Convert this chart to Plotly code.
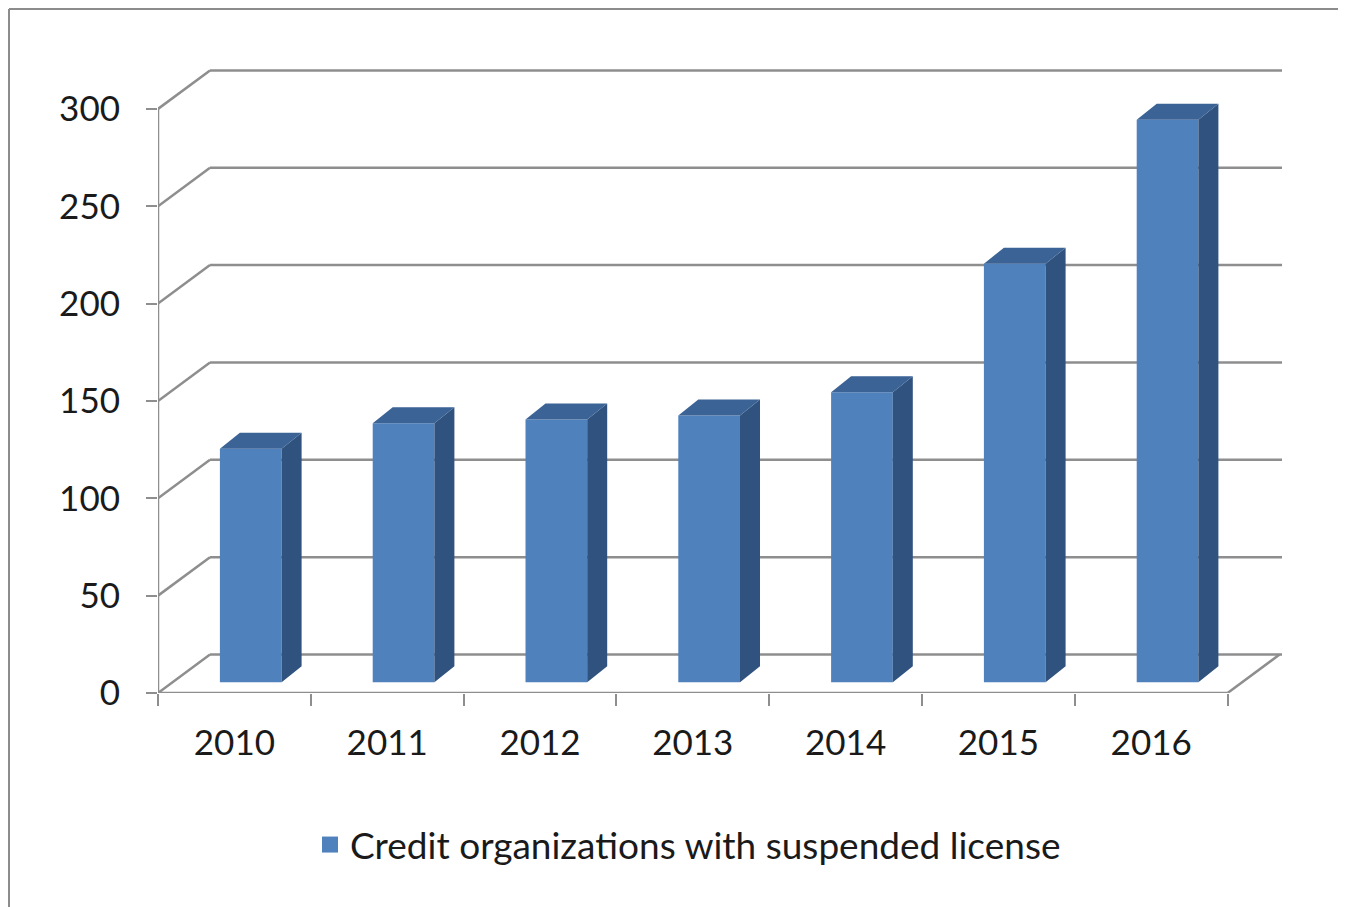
import plotly.graph_objects as go

# ---- data ----
years = ["2010", "2011", "2012", "2013", "2014", "2015", "2016"]
values = [120, 133, 135, 137, 149, 215, 289]
y_ticks = [0, 50, 100, 150, 200, 250, 300]
series_name = "Credit organizations with suspended license"

# ---- geometry (pixel -> data unit conversions) ----
# the page body has an 8px margin, so the figure is drawn 8px in from the corner
W, H = 1338, 899
L, R, T, B = 150, 64, 61, 214
plot_w = W - L - R
plot_h = H - T - B
PX_X = 152.8                       # px per category
x_min = -0.5
x_max = x_min + plot_w / PX_X
y_max = 320.5
PX_Y = plot_h / y_max

wall_dx = 52 / PX_X
wall_dy = 38.5 / PX_Y
depth_dx = 20 / PX_X
depth_dy = 16 / PX_Y
bar_base = 10.7 / PX_Y
bar_offset = -14.5 / PX_X
bar_width = 61.7 / PX_X

idx = list(range(len(years)))
grid_col = "#8E8E8E"
front_col = "#4F81BD"
side_col = "#30527E"
top_col = "#3B6396"
font_family = "Lato, 'Open Sans', sans-serif"

fig = go.Figure()

# front faces
fig.add_trace(go.Bar(
    x=idx, y=values, base=bar_base, width=bar_width, offset=bar_offset,
    marker=dict(color=front_col, line=dict(width=0)),
    name=series_name, showlegend=False,
))

# side and top faces
sx, sy, tx, ty = [], [], [], []
for i, v in zip(idx, values):
    xl = i + bar_offset
    xr = xl + bar_width
    top = bar_base + v
    sx += [xr, xr, xr + depth_dx, xr + depth_dx, xr, None]
    sy += [bar_base, top, top + depth_dy, bar_base + depth_dy, bar_base, None]
    tx += [xl, xr, xr + depth_dx, xl + depth_dx, xl, None]
    ty += [top, top, top + depth_dy, top + depth_dy, top, None]
fig.add_trace(go.Scatter(x=sx, y=sy, fill="toself", fillcolor=side_col,
                         line=dict(width=0), mode="lines", hoverinfo="skip",
                         showlegend=False))
fig.add_trace(go.Scatter(x=tx, y=ty, fill="toself", fillcolor=top_col,
                         line=dict(width=0), mode="lines", hoverinfo="skip",
                         showlegend=False))

# legend entry (square swatch)
fig.add_trace(go.Scatter(x=[None], y=[None], mode="markers", name=series_name,
                         marker=dict(symbol="square", size=20, color=front_col,
                                     line=dict(width=0)),
                         showlegend=True))

# perspective grid (walls / floor)
shapes = []
def seg(x0, y0, x1, y1, w=2.5):
    shapes.append(dict(type="line", xref="x", yref="y", x0=x0, y0=y0, x1=x1, y1=y1,
                       line=dict(color=grid_col, width=w), layer="below"))

for v in y_ticks:
    seg(x_min, v, x_min + wall_dx, v + wall_dy)
    seg(x_min + wall_dx, v + wall_dy, x_max, v + wall_dy)
x_front_end = len(years) - 0.5
seg(x_min, 0, x_front_end, 0)
seg(x_front_end, 0, x_front_end + wall_dx, wall_dy)
seg(x_min, 0, x_min, y_ticks[-1])

# outer chart border: only the left and top edges are in view
px2paper_x = lambda px: (px - L) / plot_w
px2paper_y = lambda py: (H - B - py) / plot_h
border = dict(color="#8C8C8C", width=2)
shapes.append(dict(type="line", xref="paper", yref="paper",
                   x0=px2paper_x(1), x1=px2paper_x(W + 20),
                   y0=px2paper_y(1), y1=px2paper_y(1), line=border, layer="below"))
shapes.append(dict(type="line", xref="paper", yref="paper",
                   x0=px2paper_x(1), x1=px2paper_x(1),
                   y0=px2paper_y(1), y1=px2paper_y(H + 20), line=border, layer="below"))

fig.update_layout(
    width=W, height=H,
    margin=dict(l=L, r=R, t=T, b=B, pad=0),
    paper_bgcolor="white", plot_bgcolor="white",
    font=dict(family=font_family, size=35, color="#1A1A1A"),
    shapes=shapes,
    showlegend=True,
    legend=dict(x=px2paper_x(302), y=px2paper_y(837), xanchor="left", yanchor="middle",
                orientation="h", font=dict(size=37), bgcolor="rgba(0,0,0,0)",
                itemsizing="trace"),
    xaxis=dict(range=[x_min, x_max], tickmode="array", tickvals=idx, ticktext=years,
               ticks="", showgrid=False, zeroline=False, showline=False,
               ticklabelstandoff=26,
               minor=dict(tickmode="array", tickvals=[i - 0.5 for i in range(len(years) + 1)],
                          ticks="outside", ticklen=12, tickwidth=2, tickcolor=grid_col,
                          showgrid=False)),
    yaxis=dict(range=[0, y_max], tickmode="array", tickvals=y_ticks,
               ticks="outside", ticklen=11, tickwidth=2, tickcolor=grid_col,
               showgrid=False, zeroline=False, showline=False, ticklabelstandoff=19),
)

fig.write_html("out.html",
               config={"displayModeBar": False},
               post_script="document.documentElement.style.overflow='hidden';"
                           "document.body.style.overflow='hidden';")
